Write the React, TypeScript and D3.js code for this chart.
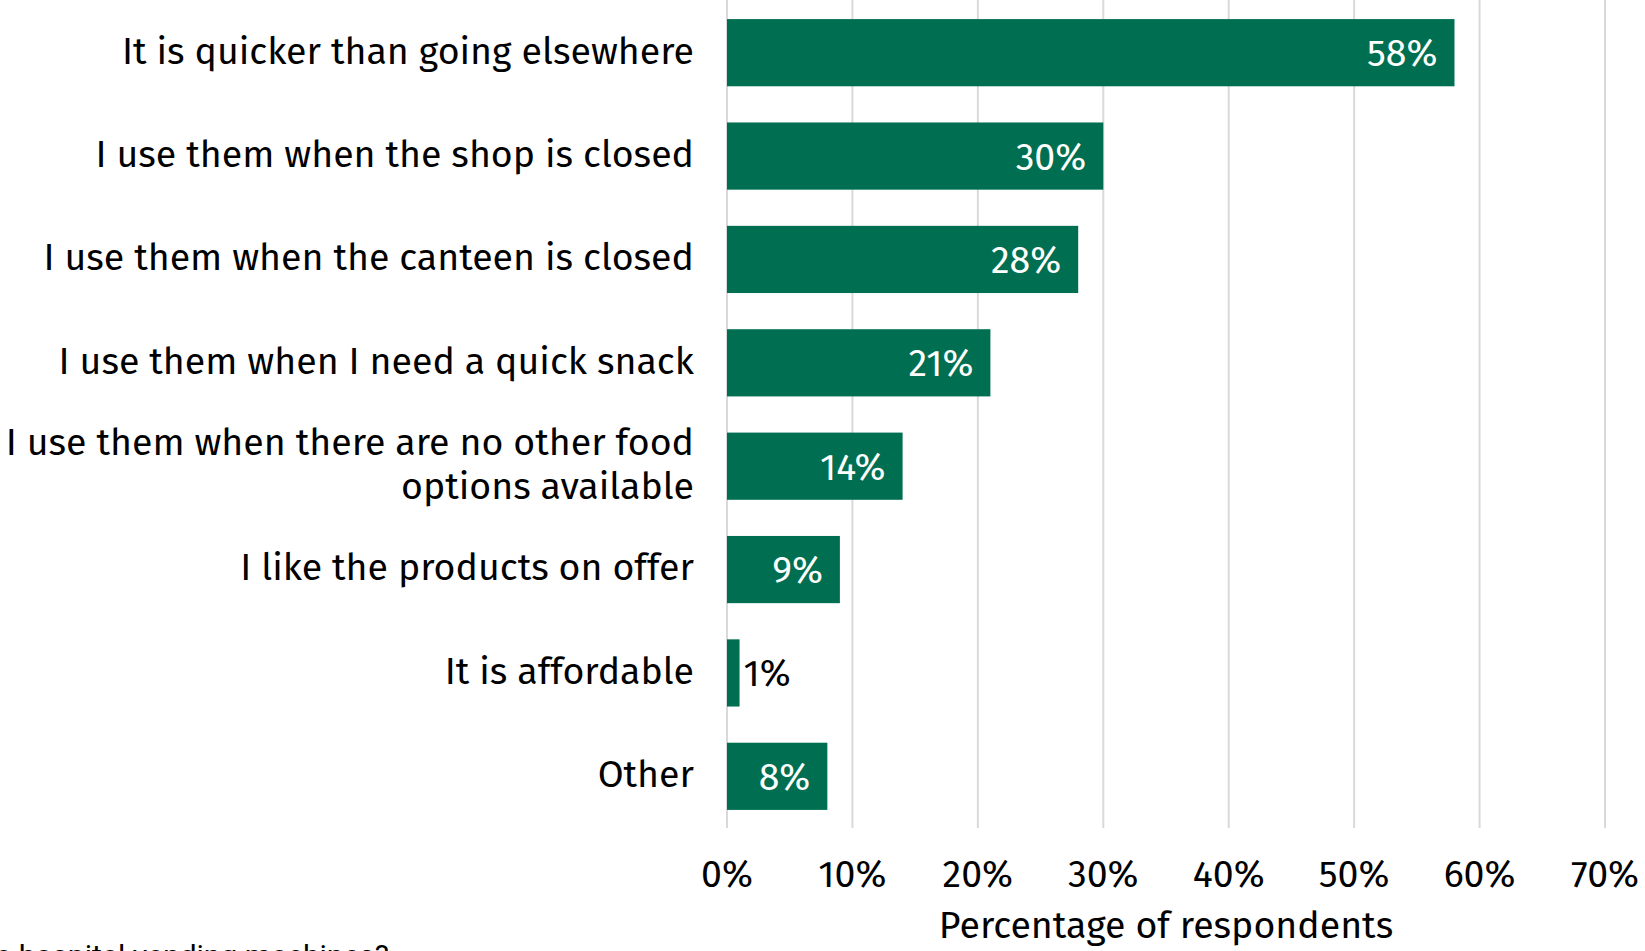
import React, { useEffect } from "react";
import * as d3 from "d3";

const categories: string[][] = [
  ["It is quicker than going elsewhere"],
  ["I use them when the shop is closed"],
  ["I use them when the canteen is closed"],
  ["I use them when I need a quick snack"],
  ["I use them when there are no other food", "options available"],
  ["I like the products on offer"],
  ["It is affordable"],
  ["Other"],
];
const values: number[] = [58, 30, 28, 21, 14, 9, 1, 8];
const ticks: number[] = [0, 10, 20, 30, 40, 50, 60, 70];
const axisTitle = "Percentage of respondents";
const footnote = "Q: Why do you use the hospital vending machines?";

const W = 1645;
const H = 951;
const FONT = "'Fira Sans', 'Open Sans', 'Noto Sans', sans-serif";
const FS = 37.5;

export default function App() {
  useEffect(() => {
    document.body.style.margin = "0";
  }, []);

  const x = d3.scaleLinear().domain([0, 70]).range([727, 1605]);
  const y = d3
    .scaleBand<number>()
    .domain(d3.range(values.length))
    .range([1, 828])
    .paddingInner(0.35)
    .paddingOuter(0.175);

  const bh = y.bandwidth();

  return (
    <svg width={W} height={H} style={{ display: "block" }} fontFamily={FONT}>
      <rect x={0} y={0} width={W} height={H} fill="#fff" />
      {ticks.map((t) => (
        <line
          key={"g" + t}
          x1={x(t)}
          x2={x(t)}
          y1={0}
          y2={828}
          stroke="#d9d9d9"
          strokeWidth={2}
        />
      ))}
      {values.map((v, i) => {
        const y0 = y(i)!;
        const inside = v >= 5;
        return (
          <g key={"b" + i}>
            <rect x={x(0)} y={y0} width={x(v) - x(0)} height={bh} fill="#006f51" />
            <text
              x={inside ? x(v) - 17 : x(v) + 4}
              y={y0 + bh / 2}
              dy="0.36em"
              textAnchor={inside ? "end" : "start"}
              fill={inside ? "#fff" : "#000"}
              fontSize={FS}
            >
              {v + "%"}
            </text>
          </g>
        );
      })}
      {categories.map((lines, i) => {
        const cy = y(i)! + bh / 2;
        const lh = 44;
        return (
          <text key={"c" + i} textAnchor="end" fontSize={FS} fill="#000">
            {lines.map((l, j) => (
              <tspan
                key={j}
                x={694}
                y={cy + (j - (lines.length - 1) / 2) * lh}
                dy="0.29em"
              >
                {l}
              </tspan>
            ))}
          </text>
        );
      })}
      {ticks.map((t) => (
        <text
          key={"t" + t}
          x={x(t)}
          y={873}
          dy="0.36em"
          textAnchor="middle"
          fontSize={FS}
          fill="#000"
        >
          {t + "%"}
        </text>
      ))}
      <text
        x={(x(0) + x(70)) / 2}
        y={924}
        dy="0.36em"
        textAnchor="middle"
        fontSize={FS}
        fill="#000"
      >
        {axisTitle}
      </text>
      <text x={389} y={966} textAnchor="end" fontSize={30} fill="#000" fontFamily="Roboto, sans-serif">
        {footnote}
      </text>
    </svg>
  );
}
